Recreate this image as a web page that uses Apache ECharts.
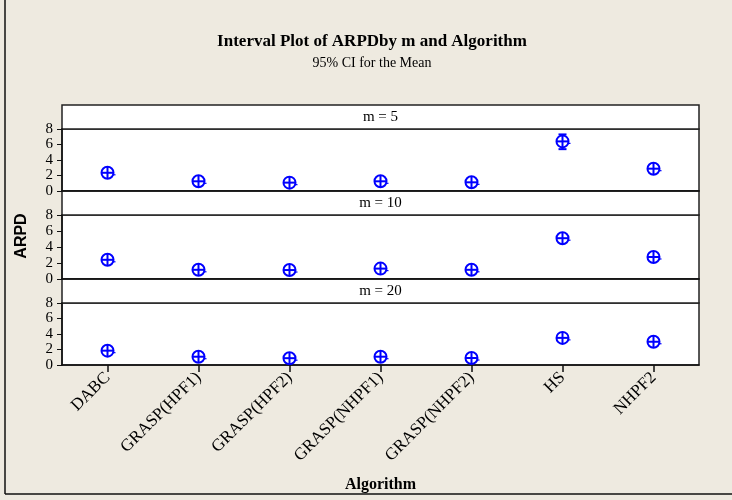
<!DOCTYPE html>
<html>
<head>
<meta charset="utf-8">
<script src="https://cdn.jsdelivr.net/npm/echarts@6/dist/echarts.min.js"></script>
<style>
  html, body { margin: 0; padding: 0; background: #eeeae0; }
  #chart { width: 732px; height: 500px; }
</style>
</head>
<body>
<div id="chart"></div>
<script>
const categories = ['DABC', 'GRASP(HPF1)', 'GRASP(HPF2)', 'GRASP(NHPF1)', 'GRASP(NHPF2)', 'HS', 'NHPF2'];
const panelNames = ['m = 5', 'm = 10', 'm = 20'];
const yTicks = [0, 2, 4, 6, 8];

// mean and 95% CI (low / high) per panel
const m5Mean = [2.35, 1.25, 1.08, 1.25, 1.12, 6.4, 2.88];
const m5Low = [2.1, 1.0, 0.85, 1.0, 0.9, 5.4, 2.6];
const m5High = [2.6, 1.5, 1.3, 1.5, 1.35, 7.3, 3.15];

const m10Mean = [2.4, 1.15, 1.12, 1.3, 1.15, 5.1, 2.75];
const m10Low = [2.15, 0.95, 0.9, 1.05, 0.95, 4.4, 2.45];
const m10High = [2.65, 1.35, 1.35, 1.55, 1.35, 5.75, 3.05];

const m20Mean = [1.85, 1.07, 0.88, 1.07, 0.9, 3.5, 3.0];
const m20Low = [1.6, 0.85, 0.65, 0.85, 0.7, 3.15, 2.7];
const m20High = [2.1, 1.3, 1.1, 1.3, 1.1, 3.85, 3.3];

const panels = [
  { mean: m5Mean, low: m5Low, high: m5High },
  { mean: m10Mean, low: m10Low, high: m10High },
  { mean: m20Mean, low: m20Low, high: m20High }
];

const serif = 'Liberation Serif';
const blue = '#0000ff';
const left = 62, right = 699;
const headers = [105, 191, 279];
const grids = [
  { top: 129, height: 62 },
  { top: 215, height: 64 },
  { top: 303, height: 62 }
];

function renderInterval(params, api) {
  const x = api.value(0);
  const c = api.coord([x, api.value(1)]);
  const lo = api.coord([x, api.value(2)]);
  const hi = api.coord([x, api.value(3)]);
  const r = 6;
  const st = { stroke: blue, lineWidth: 2, fill: 'none' };
  const children = [
    { type: 'circle', shape: { cx: c[0], cy: c[1], r: r }, style: st },
    { type: 'line', shape: { x1: c[0] - r, y1: c[1], x2: c[0] + r, y2: c[1] }, style: st },
    { type: 'line', shape: { x1: c[0], y1: Math.min(hi[1], c[1] - r), x2: c[0], y2: Math.max(lo[1], c[1] + r) }, style: st },
    { type: 'line', shape: { x1: c[0] + 5, y1: c[1] + 2, x2: c[0] + 8, y2: c[1] + 2 }, style: { stroke: blue, lineWidth: 1.2 } }
  ];
  if (c[1] - hi[1] > r) {
    children.push({ type: 'line', shape: { x1: c[0] - 4, y1: hi[1], x2: c[0] + 4, y2: hi[1] }, style: st });
  }
  if (lo[1] - c[1] > r) {
    children.push({ type: 'line', shape: { x1: c[0] - 4, y1: lo[1], x2: c[0] + 4, y2: lo[1] }, style: st });
  }
  return { type: 'group', children: children };
}

const chart = echarts.init(document.getElementById('chart'));

const graphic = [
  { type: 'line', shape: { x1: 5, y1: 0, x2: 5, y2: 494 }, style: { stroke: '#111', lineWidth: 1.5 } },
  { type: 'line', shape: { x1: 5, y1: 494, x2: 732, y2: 494 }, style: { stroke: '#111', lineWidth: 1.5 } },
  { type: 'text', x: 372, y: 42, style: { text: 'Interval Plot of ARPDby m and Algorithm', font: 'bold 17px "Liberation Serif"', fill: '#000', textAlign: 'center', textVerticalAlign: 'middle' } },
  { type: 'text', x: 372, y: 63, style: { text: '95% CI for the Mean', font: '14px "Liberation Serif"', fill: '#000', textAlign: 'center', textVerticalAlign: 'middle' } },
  { type: 'text', x: 22, y: 236, rotation: Math.PI / 2, style: { text: 'ARPD', font: 'bold 16px "Liberation Sans"', fill: '#000', textAlign: 'center', textVerticalAlign: 'middle' } }
];
headers.forEach(function (y, i) {
  graphic.push({ type: 'rect', shape: { x: left, y: y, width: right - left, height: 24 }, style: { fill: '#fff', stroke: '#222', lineWidth: 1.5 } });
  graphic.push({ type: 'text', x: (left + right) / 2, y: y + 12, style: { text: panelNames[i], font: '15px "Liberation Serif"', fill: '#000', textAlign: 'center', textVerticalAlign: 'middle' } });
});

const option = {
  backgroundColor: '#eeeae0',
  animation: false,
  grid: grids.map(function (g) {
    return { left: left, width: right - left, top: g.top, height: g.height, show: true, backgroundColor: '#fff', borderColor: '#222', borderWidth: 1.5 };
  }),
  xAxis: grids.map(function (g, i) {
    const last = i === grids.length - 1;
    return {
      type: 'category',
      gridIndex: i,
      data: categories,
      axisLine: { lineStyle: { color: '#111', width: 1.5 } },
      axisTick: { show: last, alignWithLabel: true, length: 7, lineStyle: { color: '#111', width: 1.5 } },
      axisLabel: { show: last, rotate: 45, interval: 0, margin: 10, fontFamily: serif, fontSize: 17, color: '#000' },
      name: last ? 'Algorithm' : '',
      nameLocation: 'middle',
      nameGap: 112,
      nameTextStyle: { fontFamily: serif, fontWeight: 'bold', fontSize: 16, color: '#000' },
      splitLine: { show: false }
    };
  }),
  yAxis: grids.map(function (g, i) {
    return {
      type: 'value',
      gridIndex: i,
      min: yTicks[0],
      max: yTicks[yTicks.length - 1],
      interval: 2,
      splitNumber: 4,
      axisLine: { show: true, lineStyle: { color: '#111', width: 1.5 } },
      axisTick: { show: true, interval: 0, length: 5, lineStyle: { color: '#111' } },
      axisLabel: { interval: 0, margin: 9, showMinLabel: true, showMaxLabel: true, hideOverlap: false, fontFamily: serif, fontSize: 15, color: '#000' },
      splitLine: { show: false }
    };
  }),
  series: panels.map(function (p, i) {
    return {
      type: 'custom',
      xAxisIndex: i,
      yAxisIndex: i,
      renderItem: renderInterval,
      data: categories.map(function (c, k) {
        return [k, p.mean[k], p.low[k], p.high[k]];
      })
    };
  }),
  graphic: graphic
};

chart.setOption(option);
</script>
</body>
</html>
